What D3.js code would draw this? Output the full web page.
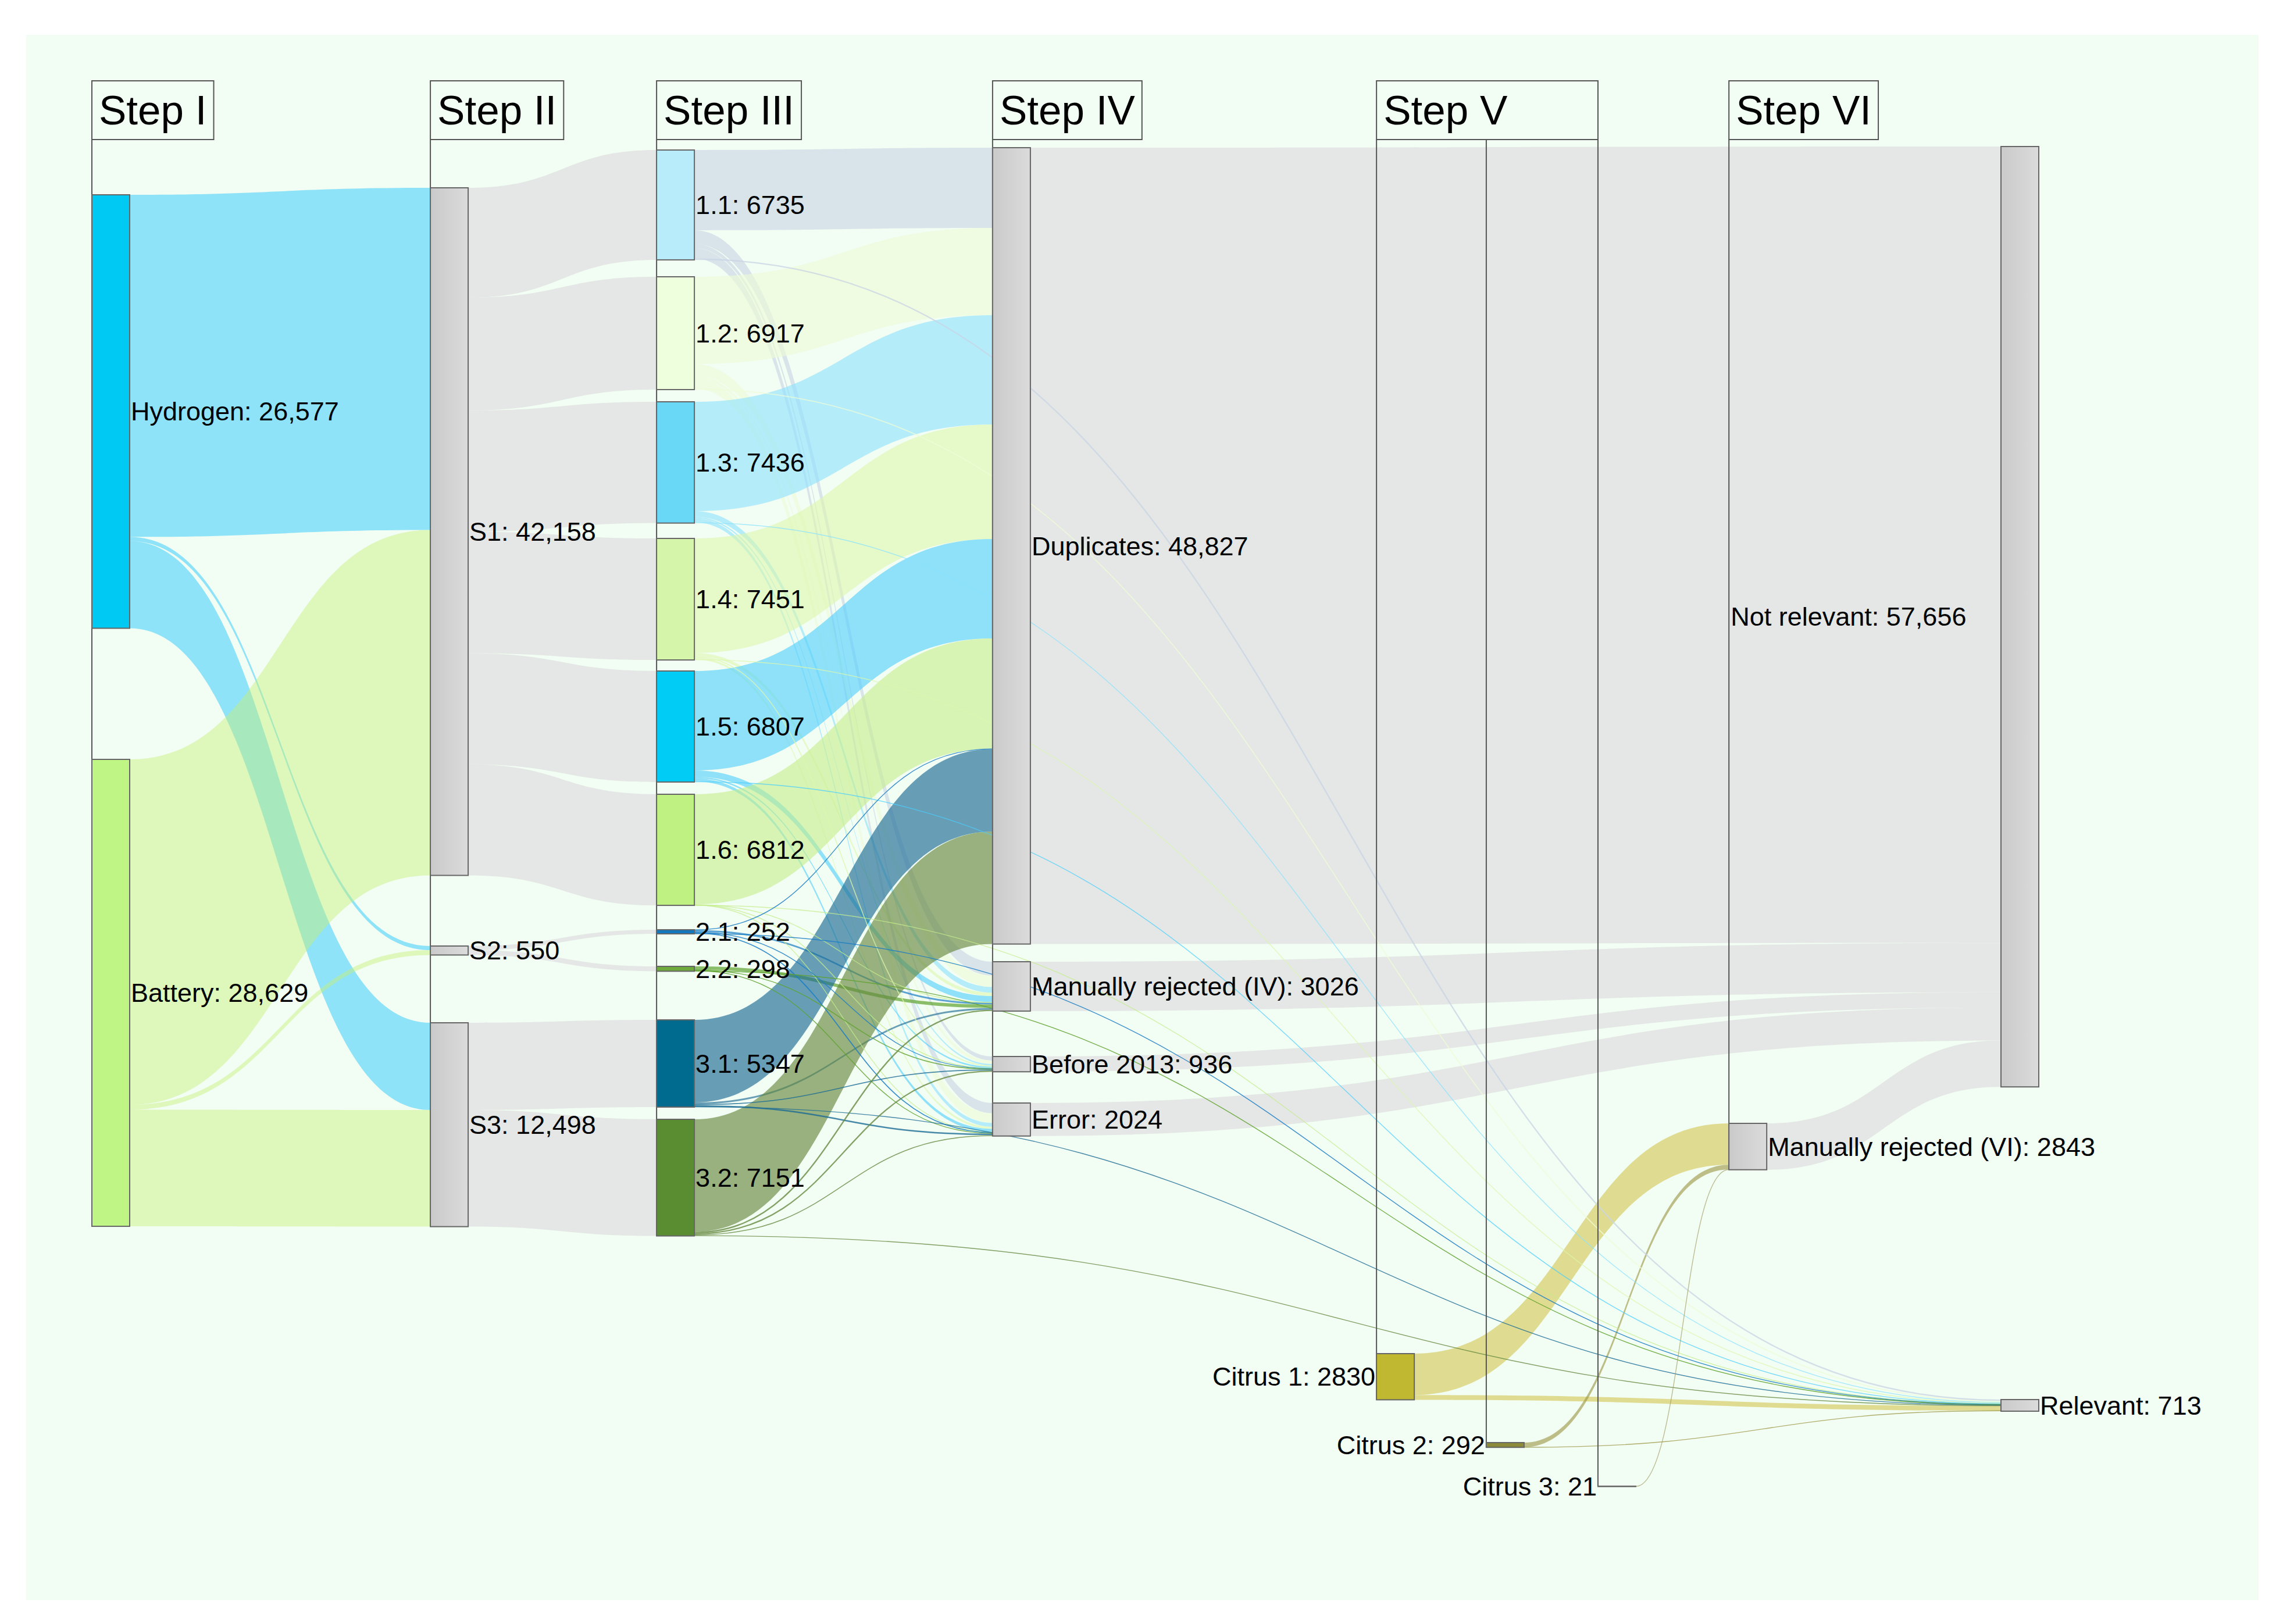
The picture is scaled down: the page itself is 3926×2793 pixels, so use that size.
<!DOCTYPE html>
<html>
<head>
<meta charset="utf-8">
<script src="https://cdn.jsdelivr.net/npm/d3@7"></script>
<style>
  body { margin: 0; background: #fff; }
  svg { display: block; font-family: "Liberation Sans", Arial, sans-serif; }
</style>
</head>
<body>
<svg id="chart" width="3926" height="2793"></svg>
<script>
(function(){

	// ---------------- data ----------------
	var stageNames = ["Step I", "Step II", "Step III", "Step IV", "Step V", "Step VI"];

	var nodeNames = ["Hydrogen", "Battery", "S1", "S2", "S3",
		"1.1", "1.2", "1.3", "1.4", "1.5", "1.6", "2.1", "2.2", "3.1", "3.2",
		"Duplicates", "Manually rejected (IV)", "Before 2013", "Error",
		"Citrus 1", "Citrus 2", "Citrus 3",
		"Manually rejected (VI)", "Not relevant", "Relevant"];
	var nodeValues = [26577, 28629, 42158, 550, 12498,
		6735, 6917, 7436, 7451, 6807, 6812, 252, 298, 5347, 7151,
		48827, 3026, 936, 2024,
		2830, 292, 21,
		2843, 57656, 713];
	var nodeColumn = [0, 0, 1, 1, 1,
		2, 2, 2, 2, 2, 2, 2, 2, 2, 2,
		3, 3, 3, 3,
		4, 5, 6,
		7, 8, 8];
	// which stage header each column belongs to (last column has none)
	var columnStage = [0, 1, 2, 3, 4, 4, 4, 5, null];

	var flows = [
		["Hydrogen", "S1", 20978], ["Hydrogen", "S2", 252], ["Hydrogen", "S3", 5347],
		["Battery", "S1", 21180], ["Battery", "S2", 298], ["Battery", "S3", 7151],
		["S1", "1.1", 6735], ["S1", "1.2", 6917], ["S1", "1.3", 7436],
		["S1", "1.4", 7451], ["S1", "1.5", 6807], ["S1", "1.6", 6812],
		["S2", "2.1", 252], ["S2", "2.2", 298],
		["S3", "3.1", 5347], ["S3", "3.2", 7151],
		["1.1", "Duplicates", 4920], ["1.1", "Manually rejected (IV)", 850], ["1.1", "Before 2013", 250], ["1.1", "Error", 630], ["1.1", "Relevant", 85],
		["1.2", "Duplicates", 5350], ["1.2", "Manually rejected (IV)", 700], ["1.2", "Before 2013", 210], ["1.2", "Error", 590], ["1.2", "Relevant", 67],
		["1.3", "Duplicates", 6700], ["1.3", "Manually rejected (IV)", 350], ["1.3", "Before 2013", 100], ["1.3", "Error", 237], ["1.3", "Relevant", 49],
		["1.4", "Duplicates", 7020], ["1.4", "Manually rejected (IV)", 200], ["1.4", "Before 2013", 60], ["1.4", "Error", 131], ["1.4", "Relevant", 40],
		["1.5", "Duplicates", 6100], ["1.5", "Manually rejected (IV)", 380], ["1.5", "Before 2013", 100], ["1.5", "Error", 187], ["1.5", "Relevant", 40],
		["1.6", "Duplicates", 6760], ["1.6", "Manually rejected (IV)", 30], ["1.6", "Before 2013", 6], ["1.6", "Error", 6], ["1.6", "Relevant", 10],
		["2.1", "Duplicates", 20], ["2.1", "Manually rejected (IV)", 110], ["2.1", "Before 2013", 40], ["2.1", "Error", 62], ["2.1", "Relevant", 20],
		["2.2", "Manually rejected (IV)", 210], ["2.2", "Before 2013", 30], ["2.2", "Error", 38], ["2.2", "Relevant", 20],
		["3.1", "Duplicates", 5060], ["3.1", "Manually rejected (IV)", 110], ["3.1", "Before 2013", 60], ["3.1", "Error", 87], ["3.1", "Relevant", 30],
		["3.2", "Duplicates", 6897], ["3.2", "Manually rejected (IV)", 86], ["3.2", "Before 2013", 80], ["3.2", "Error", 56], ["3.2", "Relevant", 32],
		["Duplicates", "Not relevant", 48827], ["Manually rejected (IV)", "Not relevant", 3026],
		["Before 2013", "Not relevant", 936], ["Error", "Not relevant", 2024],
		["Citrus 1", "Manually rejected (VI)", 2540], ["Citrus 1", "Relevant", 290],
		["Citrus 2", "Manually rejected (VI)", 282], ["Citrus 2", "Relevant", 10],
		["Citrus 3", "Manually rejected (VI)", 21],
		["Manually rejected (VI)", "Not relevant", 2843]
	];

	// ---------------- layout ----------------
	var W = 3926, H = 2793;
	var nodeWidth = 65;
	var headerTop = 139, headerHeight = 101, headerPad = 12;
	var columnPos = [0, 0.1773, 0.2958, 0.4718, 0.6729, 0.7304, 0.7889, 0.8575, 1];
	// space above each node within its column, in records
	var nodeOffset = {
		"Hydrogen": 2959, "Battery": 37576,
		"S1": 2531, "S2": 49020, "S3": 53726,
		"1.1": 214, "1.2": 7986, "1.3": 15651, "1.4": 24029, "1.5": 32157,
		"1.6": 39715, "2.1": 48021, "2.2": 50267, "3.1": 53547, "3.2": 59643,
		"Duplicates": 71, "Manually rejected (IV)": 49982, "Before 2013": 55793, "Error": 58645,
		"Citrus 1": 74011, "Citrus 2": 79465, "Citrus 3": 82139,
		"Manually rejected (VI)": 59893, "Not relevant": 0, "Relevant": 76827
	};

	var nodeFill = {
		"Hydrogen": "#00c9f3", "Battery": "#bef584",
		"1.1": "#b9ecfa", "1.2": "#eeffdd", "1.3": "#68d8f6", "1.4": "#d5f5aa",
		"1.5": "#00ccf5", "1.6": "#bef082", "2.1": "#1478be", "2.2": "#6eaa3c",
		"3.1": "#006b8f", "3.2": "#5a8c32",
		"Citrus 1": "#c0b830", "Citrus 2": "#8b8b3a", "Citrus 3": "#333333"
	};
	var linkStyle = {
		"Hydrogen": ["#16c3ff", 0.45], "Battery": ["#c6ef76", 0.45],
		"1.1": ["#c8d4e4", 0.6], "1.2": ["#edfcd5", 0.6], "1.3": ["#8ae1ff", 0.6],
		"1.4": ["#dcf7ad", 0.6], "1.5": ["#4bcffd", 0.6], "1.6": ["#c5ee8c", 0.6],
		"2.1": ["#1a7cc4", 0.7], "2.2": ["#5fa22e", 0.7],
		"3.1": ["#1c6b95", 0.65], "3.2": ["#678941", 0.65],
		"Citrus 1": ["#cfc040", 0.55], "Citrus 2": ["#9a9440", 0.6], "Citrus 3": ["#a09a60", 0.5]
	};
	var greyLink = ["#e0e1e1", 0.8];

	var x = d3.scaleLinear().domain([0, 1]).range([158, 3441]);
	var y = d3.scaleLinear().domain([0, 100000]).range([252, 3057]);
	function thick(v){ return y(v) - y(0); }
	function fmt(v){ return v >= 10000 ? d3.format(",")(v) : String(v); }

	// build nodes
	var nodes = nodeNames.map(function(name, i){
		var col = nodeColumn[i];
		var x0 = x(columnPos[col]);
		var y0 = y(nodeOffset[name]);
		return {name: name, value: nodeValues[i], col: col,
			x0: x0, x1: x0 + nodeWidth, y0: y0, y1: y0 + thick(nodeValues[i]),
			out: [], inc: []};
	});
	var byName = {};
	nodes.forEach(function(n){ byName[n.name] = n; });

	var links = flows.map(function(f){
		var l = {source: byName[f[0]], target: byName[f[1]], value: f[2], w: thick(f[2])};
		l.source.out.push(l);
		l.target.inc.push(l);
		return l;
	});

	// stack links on each node
	nodes.forEach(function(n){
		n.out.sort(function(a, b){ return a.target.y0 - b.target.y0; });
		n.inc.sort(function(a, b){ return a.source.y0 - b.source.y0; });
		var yy = n.y0;
		n.out.forEach(function(l){ l.sy = yy; yy += l.w; });
		yy = n.y0;
		n.inc.forEach(function(l){ l.ty = yy; yy += l.w; });
	});

	function ribbon(l){
		var x0 = l.source.x1, x1 = l.target.x0, xm = (x0 + x1) / 2;
		var p = d3.path();
		p.moveTo(x0, l.sy);
		p.bezierCurveTo(xm, l.sy, xm, l.ty, x1, l.ty);
		p.lineTo(x1, l.ty + l.w);
		p.bezierCurveTo(xm, l.ty + l.w, xm, l.sy + l.w, x0, l.sy + l.w);
		p.closePath();
		return p.toString();
	}
	var centerLine = d3.linkHorizontal()
		.source(function(l){ return [l.source.x1, l.sy + l.w / 2]; })
		.target(function(l){ return [l.target.x0, l.ty + l.w / 2]; });

	// ---------------- draw ----------------
	var svg = d3.select("#chart");
	var defs = svg.append("defs");
	var grad = defs.append("linearGradient").attr("id", "greyNode");
	grad.append("stop").attr("offset", "0%").attr("stop-color", "#cacaca");
	grad.append("stop").attr("offset", "100%").attr("stop-color", "#dbdbdb");

	svg.append("rect")
		.attr("x", 45).attr("y", 60)
		.attr("width", 3839).attr("height", 2692)
		.attr("fill", "#f2fdf3");

	function styleOf(l){ return linkStyle[l.source.name] || greyLink; }

	var sorted = links.slice().sort(function(a, b){ return a.source.col - b.source.col; });
	var gLinks = svg.append("g");
	gLinks.selectAll("path.wide").data(sorted.filter(function(l){ return l.w >= 2.5; }))
		.enter().append("path")
		.attr("class", "wide")
		.attr("d", ribbon)
		.attr("fill", function(l){ return styleOf(l)[0]; })
		.attr("fill-opacity", function(l){ return styleOf(l)[1]; });
	gLinks.selectAll("path.thin").data(sorted.filter(function(l){ return l.w < 2.5; }))
		.enter().append("path")
		.attr("class", "thin")
		.attr("d", centerLine)
		.attr("fill", "none")
		.attr("stroke", function(l){ return styleOf(l)[0]; })
		.attr("stroke-opacity", function(l){ return Math.min(1, styleOf(l)[1] + 0.15); })
		.attr("stroke-width", function(l){ return Math.max(l.w, 1.4); });

	// stage lines from header down to the lowest node of each column
	var stageLines = [];
	columnPos.forEach(function(p, c){
		if (columnStage[c] === null) return;
		var bottom = d3.max(nodes.filter(function(n){ return n.col === c; }), function(n){ return n.y1; });
		stageLines.push({x: x(p), y1: headerTop + headerHeight, y2: bottom});
	});
	svg.append("g").selectAll("line").data(stageLines).enter().append("line")
		.attr("x1", function(d){ return d.x; })
		.attr("x2", function(d){ return d.x; })
		.attr("y1", function(d){ return d.y1; })
		.attr("y2", function(d){ return d.y2; })
		.attr("stroke", "#555")
		.attr("stroke-width", 2);

	// nodes
	svg.append("g").selectAll("rect").data(nodes).enter().append("rect")
		.attr("x", function(n){ return n.x0; })
		.attr("y", function(n){ return n.y0; })
		.attr("width", nodeWidth)
		.attr("height", function(n){ return Math.max(n.y1 - n.y0, 0.5); })
		.attr("fill", function(n){ return nodeFill[n.name] || "url(#greyNode)"; })
		.attr("stroke", "#666")
		.attr("stroke-width", 2);

	// stage headers
	var headers = stageNames.map(function(name, s){
		var cols = [];
		columnStage.forEach(function(st, c){ if (st === s) cols.push(c); });
		return {name: name, x0: x(columnPos[cols[0]]), x1: x(columnPos[cols[cols.length - 1]])};
	});
	var gHead = svg.append("g").selectAll("g").data(headers).enter().append("g");
	var headText = gHead.append("text")
		.attr("x", function(d){ return d.x0 + headerPad; })
		.attr("y", headerTop + headerHeight / 2)
		.attr("dy", "0.35em")
		.attr("font-size", 71)
		.attr("fill", "#000")
		.text(function(d){ return d.name; });
	headText.each(function(d){ d.tw = this.getComputedTextLength(); });
	gHead.insert("rect", "text")
		.attr("x", function(d){ return d.x0; })
		.attr("y", headerTop)
		.attr("width", function(d){ return Math.max(d.tw + 2 * headerPad, d.x1 - d.x0); })
		.attr("height", headerHeight)
		.attr("fill", "#f2fdf3")
		.attr("stroke", "#555")
		.attr("stroke-width", 2);

	// node labels
	function labelX(n){
		if (n.name.indexOf("Citrus") === 0) return n.x0 - 2;
		if (n.name === "Not relevant") return x(columnPos[7]) + 3;
		return n.x1 + 2;
	}
	svg.append("g").selectAll("text").data(nodes).enter().append("text")
		.attr("x", labelX)
		.attr("y", function(n){ return (n.y0 + n.y1) / 2; })
		.attr("dy", "0.35em")
		.attr("font-size", 45)
		.attr("fill", "#000")
		.attr("text-anchor", function(n){ return n.name.indexOf("Citrus") === 0 ? "end" : "start"; })
		.text(function(n){ return n.name + ": " + fmt(n.value); });

})();
</script>
</body>
</html>
